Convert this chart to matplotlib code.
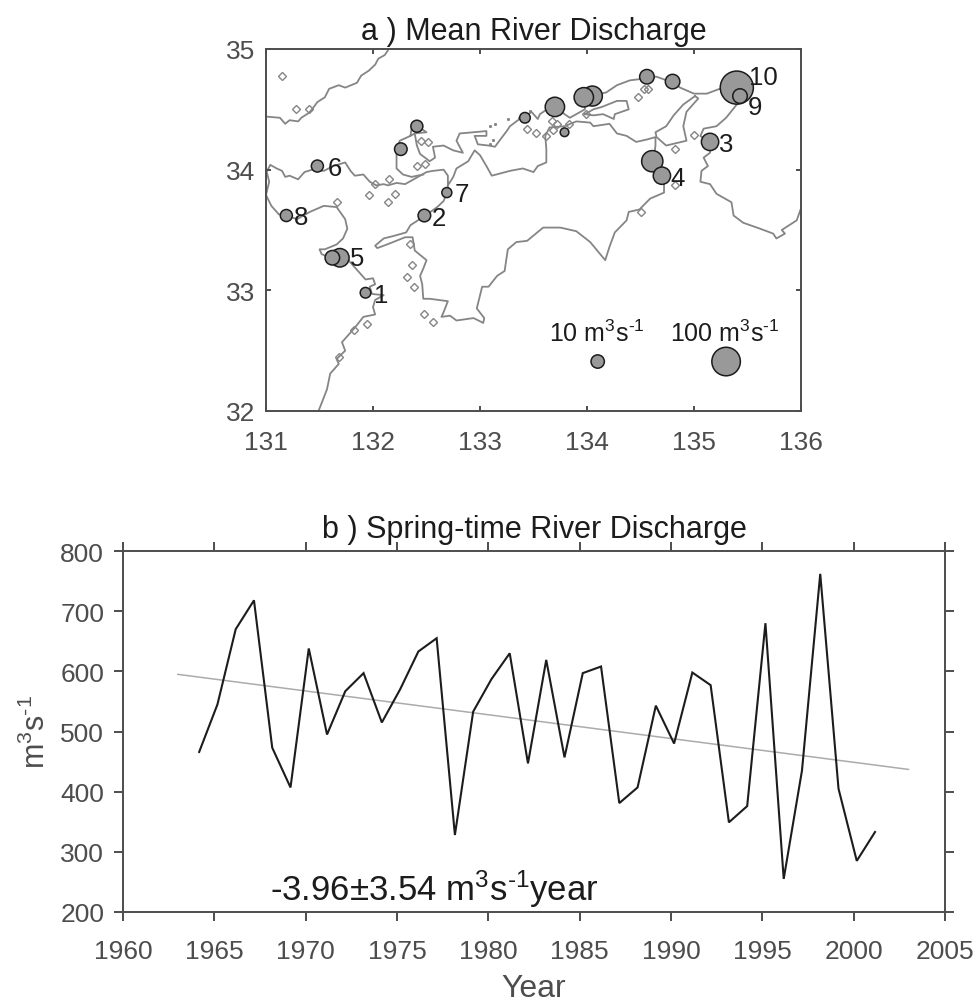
import matplotlib
matplotlib.use("Agg")
import matplotlib.pyplot as plt

plt.rcParams['font.family'] = ['Liberation Sans', 'DejaVu Sans']
plt.rcParams['mathtext.fontset'] = 'custom'
plt.rcParams['mathtext.rm'] = 'Liberation Sans'
plt.rcParams['mathtext.default'] = 'regular'

AXIS = '#4d4d4d'
DARK = '#1c1c1c'
COAST = '#858585'
UNITS = r'm$^{3}$s$^{\text{-}1}$'

# coastlines, lon/lat
coast_yamaguchi_lon = [132.14, 132.11, 132.05, 132.02, 131.96, 131.89, 131.85, 131.74, 131.68, 131.59, 131.55, 131.48, 131.43, 131.40, 131.33, 131.30, 131.22, 131.18, 131.13, 131.00]
coast_yamaguchi_lat = [34.99, 34.95, 34.92, 34.87, 34.82, 34.78, 34.72, 34.68, 34.70, 34.67, 34.60, 34.56, 34.50, 34.47, 34.43, 34.40, 34.41, 34.38, 34.43, 34.44]

coast_shikoku_lon = [131.00, 131.04, 131.10, 131.15, 131.18, 131.22, 131.30, 131.36, 131.43, 131.54, 131.63, 131.74, 131.79, 131.83, 131.91, 131.97, 132.03, 132.10, 132.14, 132.22, 132.30, 132.38, 132.50, 132.56, 132.66, 132.70, 132.70, 132.69, 132.66, 132.60, 132.49, 132.35, 132.31, 132.19, 132.10, 132.02, 132.04, 132.16, 132.30, 132.37, 132.39, 132.50, 132.47, 132.44, 132.46, 132.47, 132.53, 132.70, 132.66, 132.64, 132.72, 132.78, 132.94, 133.03, 133.04, 132.97, 133.02, 133.08, 133.16, 133.23, 133.26, 133.34, 133.44, 133.59, 133.75, 133.90, 134.03, 134.17, 134.21, 134.26, 134.37, 134.39, 134.49, 134.59, 134.72, 134.72, 134.70, 134.62, 134.64, 134.64, 134.56, 134.46, 134.37, 134.28, 134.21, 134.06, 134.03, 133.90, 133.79, 133.65, 133.61, 133.62, 133.62, 133.54, 133.50, 133.40, 133.28, 133.11, 133.06, 133.00, 132.95, 132.89, 132.78, 132.75, 132.70]
coast_shikoku_lat = [33.97, 34.04, 34.01, 33.99, 33.94, 33.95, 33.92, 33.98, 34.00, 33.99, 34.03, 34.06, 33.99, 33.95, 33.96, 33.90, 33.87, 33.88, 33.87, 33.89, 33.88, 33.92, 33.98, 33.99, 34.00, 33.95, 33.87, 33.81, 33.74, 33.69, 33.62, 33.54, 33.48, 33.45, 33.43, 33.37, 33.35, 33.39, 33.44, 33.44, 33.33, 33.25, 33.18, 33.12, 33.05, 32.93, 32.93, 32.91, 32.82, 32.78, 32.79, 32.75, 32.77, 32.73, 32.77, 32.85, 33.03, 33.03, 33.12, 33.16, 33.34, 33.40, 33.41, 33.52, 33.52, 33.49, 33.40, 33.25, 33.36, 33.48, 33.58, 33.65, 33.67, 33.76, 33.81, 33.88, 33.95, 34.07, 34.20, 34.27, 34.25, 34.23, 34.28, 34.30, 34.38, 34.36, 34.39, 34.40, 34.36, 34.35, 34.28, 34.17, 34.06, 34.03, 33.98, 34.01, 33.99, 33.95, 34.03, 34.12, 34.16, 34.07, 34.01, 33.94, 33.87]

coast_inlet_lon = [132.47, 132.36, 132.28, 132.22, 132.22, 132.25, 132.35, 132.36, 132.41, 132.45, 132.50, 132.39, 132.35]
coast_inlet_lat = [33.96, 33.94, 33.96, 34.01, 34.17, 34.24, 34.28, 34.34, 34.36, 34.34, 34.31, 34.30, 34.28]

coast_honshu_lon = [132.39, 132.41, 132.44, 132.53, 132.58, 132.56, 132.66, 132.75, 132.84, 132.78, 132.81, 132.94, 133.06, 133.06, 132.95, 132.98, 133.08, 133.14, 133.19, 133.25, 133.28, 133.37, 133.42, 133.48, 133.54, 133.56, 133.61, 133.70, 133.79, 133.84, 133.98, 133.98, 134.18, 134.28, 134.40, 134.49, 134.56, 134.65, 134.81, 134.87, 135.00, 135.12, 135.24, 135.40, 135.43, 135.40, 135.30, 135.21, 135.09, 135.06, 135.15, 135.15, 135.09, 135.13, 135.07, 135.06, 135.15, 135.21, 135.35, 135.37, 135.46, 135.62, 135.74, 135.77, 135.85, 135.82, 135.96, 136.00]
coast_honshu_lat = [34.30, 34.20, 34.13, 34.07, 34.10, 34.19, 34.20, 34.16, 34.14, 34.24, 34.30, 34.31, 34.32, 34.28, 34.28, 34.21, 34.20, 34.19, 34.25, 34.32, 34.36, 34.42, 34.43, 34.48, 34.42, 34.46, 34.49, 34.52, 34.46, 34.43, 34.50, 34.60, 34.64, 34.70, 34.74, 34.75, 34.77, 34.77, 34.72, 34.68, 34.63, 34.63, 34.67, 34.68, 34.61, 34.54, 34.43, 34.36, 34.34, 34.28, 34.21, 34.14, 34.10, 34.03, 33.99, 33.90, 33.88, 33.80, 33.73, 33.62, 33.56, 33.51, 33.47, 33.43, 33.47, 33.50, 33.58, 33.68]

coast_awaji_lon = [135.01, 134.90, 134.81, 134.74, 134.64, 134.65, 134.74, 134.93, 134.90, 134.93, 135.04, 135.01]
coast_awaji_lat = [34.61, 34.54, 34.45, 34.36, 34.31, 34.27, 34.20, 34.24, 34.36, 34.48, 34.59, 34.61]

coast_shodo_lon = [133.98, 134.06, 134.14, 134.28, 134.37, 134.39, 134.26, 134.25, 134.15, 134.06, 133.98]
coast_shodo_lat = [34.46, 34.50, 34.52, 34.57, 34.57, 34.50, 34.46, 34.42, 34.46, 34.45, 34.46]

coast_kyushu_lon = [131.01, 131.03, 131.00, 131.05, 131.12, 131.19, 131.29, 131.41, 131.54, 131.66, 131.74, 131.76, 131.72, 131.66, 131.55, 131.50, 131.52, 131.60, 131.77, 131.86, 131.93, 132.00, 132.02, 131.97, 131.99, 132.10, 132.02, 132.00, 132.02, 131.91, 131.83, 131.71, 131.74, 131.66, 131.68, 131.60, 131.57, 131.50, 131.49]
coast_kyushu_lat = [33.97, 33.90, 33.79, 33.70, 33.63, 33.62, 33.59, 33.65, 33.70, 33.69, 33.59, 33.51, 33.43, 33.38, 33.34, 33.34, 33.30, 33.27, 33.25, 33.16, 33.09, 33.10, 33.05, 33.03, 32.97, 32.96, 32.92, 32.86, 32.80, 32.78, 32.69, 32.57, 32.50, 32.43, 32.39, 32.31, 32.18, 32.02, 32.00]

island_lon = [131.15, 131.28, 131.40, 131.96, 132.21, 132.14, 131.66, 132.41, 132.49, 132.51, 132.45, 132.02, 132.15, 134.48, 134.53, 134.57, 133.44, 133.52, 133.62, 133.68, 133.67, 133.72, 133.83, 133.99, 135.00, 134.82, 134.82, 134.50, 132.35, 132.36, 132.32, 132.38, 132.48, 132.56, 131.94, 131.82, 131.68]
island_lat = [34.78, 34.50, 34.50, 33.79, 33.80, 33.73, 33.73, 34.03, 34.05, 34.23, 34.24, 33.88, 33.92, 34.60, 34.67, 34.67, 34.34, 34.30, 34.28, 34.33, 34.40, 34.38, 34.38, 34.46, 34.29, 34.17, 33.87, 33.65, 33.38, 33.21, 33.11, 33.03, 32.80, 32.74, 32.72, 32.67, 32.45]

islet_lon = [133.09, 133.14, 133.26, 133.36, 133.12, 133.09, 133.47]
islet_lat = [34.36, 34.38, 34.42, 34.43, 34.25, 34.21, 34.49]

# river mouths, biggest drawn first so the small ones stay on top
river_lon = [135.40, 135.43, 135.15, 134.61, 134.70, 134.80, 134.56, 134.05, 133.97, 133.70, 133.42, 133.79, 132.41, 132.26, 131.69, 131.62, 131.93, 131.48, 131.19, 132.69, 132.48]
river_lat = [34.68, 34.61, 34.23, 34.07, 33.95, 34.73, 34.77, 34.61, 34.60, 34.52, 34.43, 34.31, 34.36, 34.17, 33.27, 33.27, 32.98, 34.03, 33.62, 33.81, 33.62]
river_q = [157, 13, 22, 41, 22, 13, 13, 34, 31, 31, 5, 2.7, 7.3, 8.4, 27, 13, 5, 7.3, 7.3, 4.2, 8.4]

key_lon = [134.10, 135.30]
key_lat = [32.41, 32.41]
key_q = [10, 100]
key_names = ['10 ' + UNITS, '100 ' + UNITS]
key_text_lon = [134.09, 135.29]
key_text_lat = [32.58, 32.58]

label_names = ['1', '2', '3', '4', '5', '6', '7', '8', '9', '10']
label_lon = [132.08, 132.62, 135.30, 134.85, 131.85, 131.64, 132.83, 131.33, 135.57, 135.65]
label_lat = [32.96, 33.60, 34.21, 33.93, 33.27, 34.01, 33.80, 33.61, 34.52, 34.77]

# spring-time discharge
years = [1964.17, 1965.17, 1966.17, 1967.17, 1968.17, 1969.17, 1970.17, 1971.17, 1972.17, 1973.17,
         1974.17, 1975.17, 1976.17, 1977.17, 1978.17, 1979.17, 1980.17, 1981.17, 1982.17, 1983.17,
         1984.17, 1985.17, 1986.17, 1987.17, 1988.17, 1989.17, 1990.17, 1991.17, 1992.17, 1993.17,
         1994.17, 1995.17, 1996.17, 1997.17, 1998.17, 1999.17, 2000.17, 2001.17]
discharge = [466, 545, 670, 718, 473, 407, 638, 495, 567, 597,
             515, 570, 633, 655, 328, 533, 587, 630, 447, 619,
             457, 597, 608, 381, 407, 543, 480, 598, 577, 349,
             376, 680, 255, 435, 762, 405, 285, 333]
trend_years = [1963, 2003]
trend_values = [595, 437]


def marker_area(q):
    # radius in pixels goes with the cube root of discharge
    radius = 6.67 * (q / 10) ** 0.33
    return (2 * radius * 0.72) ** 2


fig = plt.figure(figsize=(9.76, 10.03), dpi=100)
W, H = 976, 1003

# a) map
ax1 = fig.add_axes([266 / W, 1 - 412 / H, 535 / W, 362 / H])
for lon, lat in [(coast_yamaguchi_lon, coast_yamaguchi_lat), (coast_shikoku_lon, coast_shikoku_lat),
                 (coast_inlet_lon, coast_inlet_lat), (coast_honshu_lon, coast_honshu_lat),
                 (coast_awaji_lon, coast_awaji_lat), (coast_shodo_lon, coast_shodo_lat),
                 (coast_kyushu_lon, coast_kyushu_lat)]:
    ax1.plot(lon, lat, color=COAST, lw=1.3, zorder=1)
ax1.plot(island_lon, island_lat, ls='none', marker='D', ms=3.6, mfc='none', mec=COAST, mew=1.0, zorder=1)
ax1.plot(islet_lon, islet_lat, ls='none', marker='s', ms=1.1, color=COAST, zorder=1)

ax1.scatter(river_lon, river_lat, s=[marker_area(q) for q in river_q], c='#999999', edgecolors='#1c1c1c', linewidths=1.1, zorder=3)
ax1.scatter(key_lon, key_lat, s=[marker_area(q) for q in key_q], c='#999999', edgecolors='#1c1c1c', linewidths=1.1, zorder=3)

for name, lon, lat in zip(key_names, key_text_lon, key_text_lat):
    ax1.text(lon, lat, name, ha='center', va='baseline', fontsize=18, color=DARK)
for name, lon, lat in zip(label_names, label_lon, label_lat):
    ax1.text(lon, lat, name, ha='center', va='center', fontsize=18.5, color=DARK, zorder=4)

ax1.set_xlim(131, 136)
ax1.set_ylim(32, 35)
ax1.set_xticks([131, 132, 133, 134, 135, 136])
ax1.set_yticks([32, 33, 34, 35])
ax1.tick_params(direction='in', length=3.5, width=1.4, color=AXIS, labelcolor=AXIS, labelsize=19, top=True, right=True)
ax1.tick_params(axis='x', pad=14)
ax1.tick_params(axis='y', pad=8)
for spine in ax1.spines.values():
    spine.set_color(AXIS)
    spine.set_linewidth(1.4)
ax1.set_title('a ) Mean River Discharge', fontsize=22, color=DARK, pad=7)

# b) time series
ax2 = fig.add_axes([123 / W, 1 - 913 / H, 822 / W, 361 / H])
ax2.plot(trend_years, trend_values, color='#ababab', lw=1.1)
ax2.plot(years, discharge, color=DARK, lw=1.5, solid_joinstyle='miter')
ax2.text(1968.05, 221, '-3.96\u00b13.54 ' + UNITS + 'year', fontsize=25, color=DARK, va='baseline')

ax2.set_xlim(1960, 2005)
ax2.set_ylim(200, 800)
ax2.set_xticks(range(1960, 2010, 5))
ax2.set_yticks(range(200, 900, 100))
ax2.tick_params(direction='out', length=6.5, width=1.4, color=AXIS, labelcolor=AXIS, labelsize=19, top=True, right=True)
ax2.tick_params(axis='x', pad=13)
ax2.tick_params(axis='y', pad=7)
for spine in ax2.spines.values():
    spine.set_color(AXIS)
    spine.set_linewidth(1.4)
ax2.set_xlabel('Year', fontsize=23, color=AXIS, labelpad=7)
ax2.set_ylabel(UNITS, fontsize=22, color=AXIS, labelpad=6)
ax2.set_title('b ) Spring-time River Discharge', fontsize=22, color=DARK, pad=10)

fig.savefig('out.png', dpi=100)
